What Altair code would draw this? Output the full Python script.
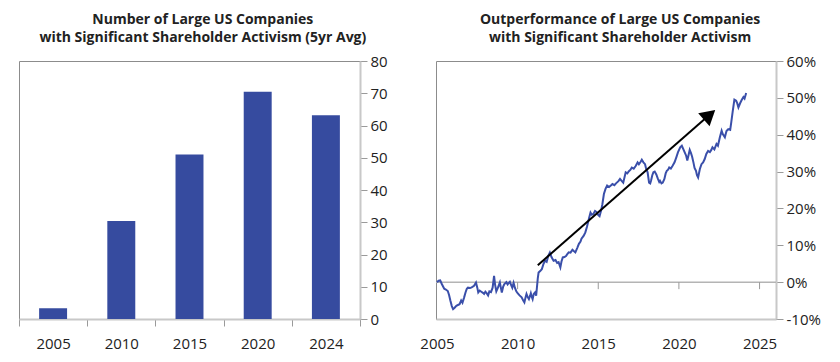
import altair as alt
import pandas as pd

# ---------------- data ----------------
bar_years = ["2005", "2010", "2015", "2020", "2024"]
bar_counts = [3.3, 30.4, 51.0, 70.5, 63.2]

perf_years = [
    2005.00, 2005.10, 2005.20, 2005.30, 2005.45, 2005.55, 2005.67, 2005.75, 2005.83, 2005.92,
    2006.00, 2006.08, 2006.20, 2006.30, 2006.40, 2006.50, 2006.58, 2006.68, 2006.77, 2006.85,
    2006.92, 2007.05, 2007.15, 2007.30, 2007.42, 2007.50, 2007.56, 2007.65, 2007.75, 2007.85,
    2007.92, 2008.00, 2008.08, 2008.17, 2008.25, 2008.35, 2008.45, 2008.54, 2008.60, 2008.68,
    2008.78, 2008.90, 2008.96, 2009.02, 2009.10, 2009.17, 2009.25, 2009.30, 2009.38, 2009.45,
    2009.52, 2009.60, 2009.67, 2009.75, 2009.83, 2009.92, 2010.00, 2010.12, 2010.25, 2010.35,
    2010.42, 2010.50, 2010.55, 2010.62, 2010.70, 2010.78, 2010.82, 2010.88, 2010.93, 2011.00,
    2011.08, 2011.15, 2011.25, 2011.30, 2011.40, 2011.50, 2011.60, 2011.70, 2011.80, 2011.90,
    2012.00, 2012.10, 2012.23, 2012.35, 2012.45, 2012.54, 2012.65, 2012.72, 2012.80, 2012.90,
    2013.00, 2013.08, 2013.17, 2013.28, 2013.40, 2013.50, 2013.58, 2013.70, 2013.80, 2013.90,
    2013.96, 2014.10, 2014.20, 2014.30, 2014.42, 2014.52, 2014.60, 2014.70, 2014.80, 2014.90,
    2015.00, 2015.08, 2015.18, 2015.25, 2015.35, 2015.45, 2015.55, 2015.67, 2015.78, 2015.88,
    2016.00, 2016.10, 2016.25, 2016.35, 2016.45, 2016.55, 2016.70, 2016.80, 2016.90, 2017.00,
    2017.08, 2017.20, 2017.32, 2017.44, 2017.52, 2017.62, 2017.70, 2017.80, 2017.90, 2017.96,
    2018.06, 2018.15, 2018.22, 2018.27, 2018.35, 2018.42, 2018.50, 2018.60, 2018.70, 2018.78,
    2018.83, 2018.92, 2019.00, 2019.10, 2019.18, 2019.25, 2019.33, 2019.40, 2019.50, 2019.60,
    2019.73, 2019.85, 2019.94, 2020.08, 2020.18, 2020.28, 2020.38, 2020.45, 2020.52, 2020.60,
    2020.67, 2020.75, 2020.82, 2020.90, 2020.97, 2021.06, 2021.12, 2021.19, 2021.30, 2021.40,
    2021.50, 2021.60, 2021.70, 2021.81, 2021.92, 2022.00, 2022.08, 2022.20, 2022.33, 2022.42,
    2022.54, 2022.65, 2022.72, 2022.85, 2022.95, 2023.06, 2023.18, 2023.25, 2023.33, 2023.44,
    2023.55, 2023.62, 2023.69, 2023.80, 2023.90, 2024.00, 2024.07, 2024.17,
]
perf_values = [
    0.0, 0.4, 0.5, -0.5, -1.8, -2.0, -2.4, -3.5, -5.0, -6.5,
    -7.3, -7.0, -6.4, -6.2, -6.0, -5.0, -5.6, -4.2, -2.8, -1.8,
    -1.5, -1.6, -1.4, -1.0, -0.1, -1.5, -2.8, -2.3, -2.6, -2.9,
    -3.2, -2.6, -3.0, -3.6, -2.5, -2.7, -1.5, 1.7, -0.6, -2.5,
    -1.5, -0.1, -1.5, -2.8, -1.3, -0.6, -0.2, 0.0, -0.6, -0.2,
    0.1, -0.8, -1.5, -0.2, -1.5, -2.5, -3.0, -3.6, -4.1, -5.0,
    -5.5, -4.0, -3.2, -4.0, -4.6, -3.6, -3.0, -4.0, -4.6, -3.2,
    -2.8, -3.7, 1.0, 2.6, 3.0, 3.5, 4.9, 5.8, 5.5, 7.1,
    8.0, 6.8, 5.8, 6.0, 5.2, 5.4, 4.0, 5.6, 6.7, 6.8,
    7.1, 7.6, 8.1, 8.0, 8.8, 8.4, 8.1, 9.3, 10.4, 11.0,
    11.8, 12.6, 13.5, 15.0, 17.2, 18.9, 18.3, 18.5, 19.3, 19.0,
    18.2, 17.9, 19.5, 21.0, 23.9, 25.3, 26.2, 25.8, 26.2, 26.6,
    26.3, 26.8, 27.4, 28.0, 27.5, 27.0, 29.8, 29.5, 30.1, 30.5,
    31.1, 30.8, 31.5, 32.5, 32.0, 32.6, 33.2, 32.5, 32.0, 30.9,
    29.8, 27.0, 26.8, 27.5, 29.0, 29.8, 30.0, 29.2, 28.0, 27.2,
    27.5, 26.8, 27.0, 28.0, 29.5, 30.2, 30.5, 31.1, 30.8, 31.5,
    32.5, 34.0, 35.2, 36.6, 37.0, 36.0, 35.0, 34.3, 33.0, 34.5,
    35.9, 35.0, 34.0, 32.5, 31.0, 30.2, 29.0, 28.4, 30.7, 32.0,
    32.5, 33.4, 34.8, 35.6, 35.3, 35.8, 36.6, 36.0, 37.5, 37.0,
    39.3, 41.1, 40.2, 39.3, 41.0, 41.5, 41.3, 43.5, 46.1, 49.5,
    49.2, 48.5, 47.4, 48.6, 49.5, 50.2, 49.8, 51.3,
]

arrow_years = [2011.25, 2021.9]
arrow_values = [4.6, 45.4]

x_ticks_right = [2005, 2010, 2015, 2020, 2025]
zero_ticks = [2010, 2015, 2020, 2025]
y_ticks_left = [0, 10, 20, 30, 40, 50, 60, 70, 80]
y_ticks_right = [-10, 0, 10, 20, 30, 40, 50, 60]

title_left = ["Number of Large US Companies", "with Significant Shareholder Activism (5yr Avg)"]
title_right = ["Outperformance of Large US Companies", "with Significant Shareholder Activism"]

# ---------------- style ----------------
FONT = "Open Sans"
BLUE = "#364b9f"
LINE_BLUE = "#3a4faa"
AXIS_GRAY = "#c8c8c8"
TICK_GRAY = "#9a9a9a"
TEXT = "#222222"
LABEL_SIZE = 15


def make_title(lines):
    return alt.TitleParams(lines, font=FONT, fontSize=14, fontWeight="bold", color=TEXT,
                           anchor="middle", frame="bounds", lineHeight=18, offset=9)


# ---------------- left: bars ----------------
bars_df = pd.DataFrame({"year": bar_years, "count": bar_counts})
left = alt.Chart(bars_df).mark_bar(color=BLUE, width=alt.RelativeBandSize(0.41)).encode(
    x=alt.X("year:N", sort=None, title=None,
            scale=alt.Scale(paddingInner=0, paddingOuter=0),
            axis=alt.Axis(labelAngle=0, tickBand="extent", tickSize=7, labelPadding=10,
                          domainColor=AXIS_GRAY, domainWidth=2, tickColor=TICK_GRAY,
                          labelFont=FONT, labelFontSize=LABEL_SIZE, labelColor=TEXT)),
    y=alt.Y("count:Q", title=None, scale=alt.Scale(domain=[0, 80], nice=False),
            axis=alt.Axis(orient="right", values=y_ticks_left, grid=False, tickSize=7,
                          labelPadding=3, domainColor=AXIS_GRAY, domainWidth=2,
                          tickColor=TICK_GRAY, labelFont=FONT, labelFontSize=LABEL_SIZE,
                          labelColor=TEXT, labelOverlap=False)),
).properties(width=341, height=258, title=make_title(title_left))

# ---------------- right: line ----------------
xscale = alt.Scale(domain=[2004.94, 2026.02], nice=False, zero=False)
yscale = alt.Scale(domain=[-10, 60], nice=False)
x_axis_r = alt.Axis(values=x_ticks_right, format="d", grid=False, tickSize=7,
                    tickOpacity=0, labelPadding=10, domainColor=AXIS_GRAY,
                    domainWidth=2, labelFont=FONT, labelFontSize=LABEL_SIZE,
                    labelColor=TEXT, labelFlush=False, labelOverlap=False, title=None)
y_axis_r = alt.Axis(orient="right", values=y_ticks_right, grid=False, tickSize=7,
                    labelPadding=3, domainColor=AXIS_GRAY, domainWidth=2,
                    tickColor=TICK_GRAY, labelFont=FONT, labelFontSize=LABEL_SIZE,
                    labelColor=TEXT, labelExpr="datum.value + '%'",
                    labelOverlap=False, title=None)

perf_df = pd.DataFrame({"year": perf_years, "value": perf_values})
line = alt.Chart(perf_df).mark_line(color=LINE_BLUE, strokeWidth=2).encode(
    x=alt.X("year:Q", scale=xscale, axis=x_axis_r),
    y=alt.Y("value:Q", scale=yscale, axis=y_axis_r),
)

zero_rule = alt.Chart(pd.DataFrame({"value": [0]})).mark_rule(
    color="#b4b4b4", strokeWidth=1.5).encode(
    y=alt.Y("value:Q", scale=yscale, axis=y_axis_r)
)

zero_tick_marks = alt.Chart(pd.DataFrame({"year": zero_ticks})).mark_rule(
    color=TICK_GRAY, strokeWidth=1).encode(
    x=alt.X("year:Q", scale=xscale, axis=x_axis_r),
    y=alt.Y(datum=0, scale=yscale, axis=y_axis_r),
    y2=alt.datum(-1.9),
)

arrow_df = pd.DataFrame({"year": arrow_years, "value": arrow_values, "o": [0, 1]})
arrow_line = alt.Chart(arrow_df).mark_line(color="black", strokeWidth=2).encode(
    x=alt.X("year:Q", scale=xscale, axis=x_axis_r),
    y=alt.Y("value:Q", scale=yscale, axis=y_axis_r),
    order="o:Q",
)
arrow_head = alt.Chart(arrow_df.iloc[[1]]).mark_point(
    shape="triangle-up", filled=True, size=300, angle=49, color="black", opacity=1
).encode(
    x=alt.X("year:Q", scale=xscale, axis=x_axis_r),
    y=alt.Y("value:Q", scale=yscale, axis=y_axis_r),
)

right = alt.layer(zero_rule, zero_tick_marks, line, arrow_line, arrow_head).properties(
    width=340, height=258, title=make_title(title_right)
)

chart = alt.hconcat(left, right, spacing=31).configure(
    padding={"left": 10, "top": 4, "right": 5, "bottom": 5}
).configure_view(stroke="#8c8c8c", strokeWidth=1).configure_axis(
    labelFont=FONT, labelOverlap=False
)

chart.save("out.html", embed_options={"renderer": "svg", "actions": False})
